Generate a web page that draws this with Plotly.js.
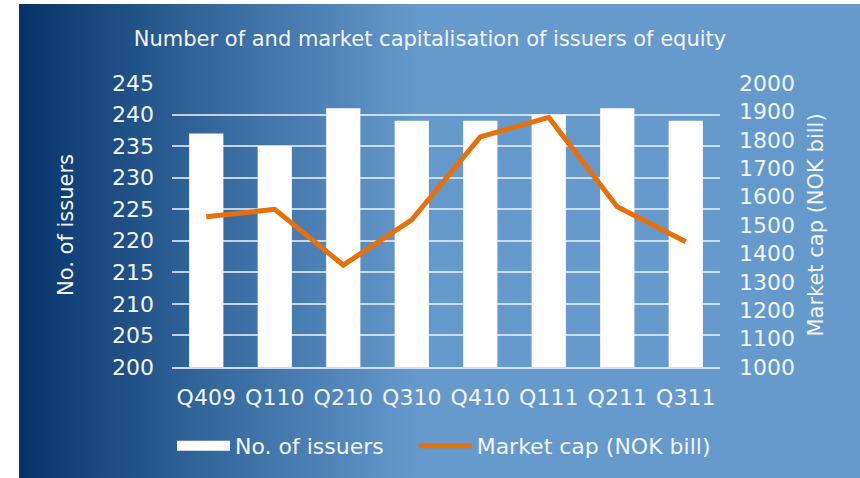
<!DOCTYPE html>
<html>
<head>
<meta charset="utf-8">
<script src="https://cdn.plot.ly/plotly-3.0.1.min.js"></script>
<style>
  body { margin: 0; background: #ffffff; }
  #bg {
    position: absolute; left: 19px; top: 4px; width: 841px; height: 474px;
    background: linear-gradient(to right, #06336a 0px, #2f6296 170px, #6699cc 400px, #6699cc 841px);
  }
  #chart { position: absolute; left: 0; top: 0; width: 860px; height: 478px; }
</style>
</head>
<body>
<div id="bg"></div>
<div id="chart"></div>
<script>
var CHART = document.getElementById('chart');

var quarters = ['Q409', 'Q110', 'Q210', 'Q310', 'Q410', 'Q111', 'Q211', 'Q311'];
var issuers = [237, 235, 241, 239, 239, 240, 241, 239];
var marketCap = [1529, 1555, 1359, 1518, 1810, 1879, 1564, 1441];

var fontFam = '"DejaVu Sans", Verdana, sans-serif';
var txt = '#f2f5fa';

var data = [
    {
        x: quarters,
        y: issuers,
        name: 'No. of issuers',
        type: 'bar',
        width: 0.5,
        showlegend: false,
        marker: {color: '#ffffff', line: {width: 0}},
        yaxis: 'y'
    },
    // legend entry only, so the bar key is drawn as a wide white block
    {
        x: [null],
        y: [null],
        name: 'No. of issuers',
        type: 'scatter',
        mode: 'lines',
        line: {color: '#ffffff', width: 12},
        yaxis: 'y',
        legend: 'legend'
    },
    {
        x: quarters,
        y: marketCap,
        name: 'Market cap (NOK bill)',
        type: 'scatter',
        mode: 'lines',
        line: {color: '#e8700a', width: 5},
        yaxis: 'y2',
        legend: 'legend2'
    }
];

var legendBase = {
    orientation: 'h',
    xref: 'container', yref: 'container',
    xanchor: 'left', yanchor: 'middle',
    y: 0.067,
    font: {family: fontFam, size: 22, color: txt},
    bgcolor: 'rgba(0,0,0,0)',
    itemwidth: 53
};

var layout = {
    width: 860,
    height: 478,
    paper_bgcolor: 'rgba(0,0,0,0)',
    plot_bgcolor: 'rgba(0,0,0,0)',
    font: {family: fontFam, size: 21, color: txt},
    margin: {l: 172, r: 140, t: 83, b: 111},
    title: {
        text: 'Number of and market capitalisation of issuers of equity',
        font: {family: fontFam, size: 21, color: txt},
        x: 0.5, xanchor: 'center', y: 0.92, yanchor: 'middle'
    },
    showlegend: true,
    legend: Object.assign({}, legendBase, {x: 0.2}),
    legend2: Object.assign({}, legendBase, {x: 0.481}),
    bargap: 0.5,
    xaxis: {
        type: 'category',
        showgrid: false,
        showline: true,
        linecolor: 'rgba(230,238,248,0.85)',
        linewidth: 1.5,
        ticks: '',
        ticklabelstandoff: 10,
        tickfont: {family: fontFam, size: 22, color: txt}
    },
    yaxis: {
        range: [200, 245],
        dtick: 5,
        tick0: 200,
        showgrid: true,
        gridcolor: 'rgba(230,238,248,0.8)',
        gridwidth: 1.5,
        zeroline: false,
        ticks: '',
        ticklabelstandoff: 17,
        tickfont: {family: fontFam, size: 22, color: txt},
        title: {text: 'No. of issuers', standoff: 32, font: {family: fontFam, size: 21, color: txt}}
    },
    yaxis2: {
        overlaying: 'y',
        side: 'right',
        range: [1000, 2000],
        dtick: 100,
        tick0: 1000,
        showgrid: false,
        zeroline: false,
        ticks: '',
        ticklabelstandoff: 18,
        tickfont: {family: fontFam, size: 22, color: txt},
        title: {text: 'Market cap (NOK bill)', standoff: 14, font: {family: fontFam, size: 21, color: txt}}
    }
};

Plotly.newPlot(CHART, data, layout, {displayModeBar: false});
</script>
</body>
</html>
